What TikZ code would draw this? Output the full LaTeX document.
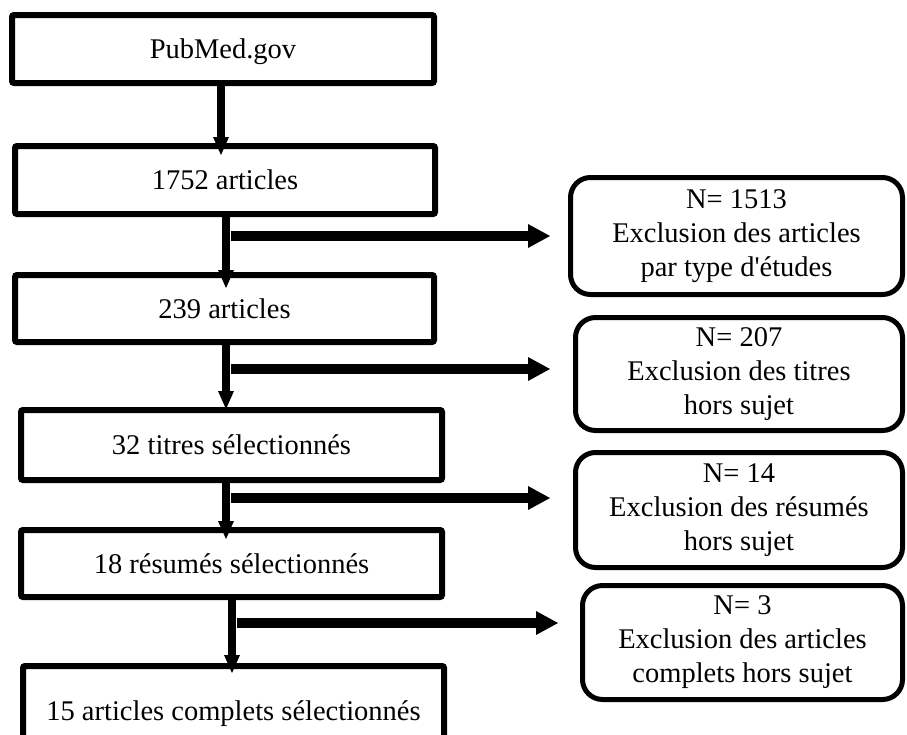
\documentclass[tikz,border=0pt]{standalone}
\usepackage{fontspec}
\setmainfont{Liberation Serif}
\usetikzlibrary{arrows.meta}
\begin{document}
\begin{tikzpicture}[x=1pt,y=-1pt,
  txt/.style={font=\fontsize{28.5}{34}\selectfont},
  lbox/.style={txt, draw, line width=6pt, rounded corners=2pt, inner sep=0pt,
    text height=19pt, text depth=0pt},
  rbox/.style={txt, draw, line width=5pt, rounded corners=20pt, inner sep=0pt, align=center},
  vconn/.style={line width=8pt, -{Triangle[length=18pt,width=16pt,line width=0pt]}},
  hconn/.style={line width=10pt, -{Triangle[length=22pt,width=24pt,line width=0pt]}}]
\useasboundingbox (0,0) rectangle (907,734);
\clip (0,0) rectangle (907,734);

% main column
\node[lbox, minimum width=422pt, minimum height=68pt] (b1) at (223,49) {PubMed.gov};
\node[lbox, minimum width=420pt, minimum height=68pt] (b2) at (225,180) {1752 articles};
\node[lbox, minimum width=419pt, minimum height=67pt] (b3) at (224.5,308.5) {239 articles};
\node[lbox, minimum width=421pt, minimum height=70pt] (b4) at (231.5,445) {32 titres sélectionnés};
\node[lbox, minimum width=421pt, minimum height=67pt] (b5) at (231.5,563.5) {18 résumés sélectionnés};
\node[lbox, minimum width=421pt, minimum height=89pt] (b6) at (233.5,710.5) {15 articles complets sélectionnés};

% exclusion boxes
\node[rbox, minimum width=332pt, minimum height=117pt] (r1) at (736.5,236)
  {N= 1513\\Exclusion des articles\\par type d\textquotesingle études};
\node[rbox, minimum width=327pt, minimum height=113pt] (r2) at (739,374)
  {N= 207\\Exclusion des titres\\hors sujet};
\node[rbox, minimum width=327pt, minimum height=115pt] (r3) at (739,510)
  {N= 14\\Exclusion des résumés\\hors sujet};
\node[rbox, minimum width=320pt, minimum height=114pt] (r4) at (742.5,642.5)
  {N= 3\\Exclusion des articles\\complets hors sujet};

% vertical connectors
\draw[vconn] (b1.south) ++(-2,0) -- ([xshift=-4pt,yshift=-12pt]b2.north);
\draw[vconn] (b2.south) ++(1,0) -- ([xshift=1.5pt,yshift=-16pt]b3.north);
\draw[vconn] (b3.south) ++(1.5,0) -- ([xshift=-5.5pt,yshift=-2pt]b4.north);
\draw[vconn] (b4.south) ++(-5.5,0) -- ([xshift=-5.5pt,yshift=-12pt]b5.north);
\draw[vconn] (b5.south) ++(0.5,0) -- ([xshift=-1.5pt,yshift=-10pt]b6.north);

% branch points and free ends
\coordinate (h1s) at (231,236);  \coordinate (h1e) at (550,236);
\coordinate (h2s) at (231,369);  \coordinate (h2e) at (550,369);
\coordinate (h3s) at (231,498);  \coordinate (h3e) at (550,498);
\coordinate (h4s) at (237,623);  \coordinate (h4e) at (558,623);

\draw[hconn] (h1s) -- (h1e);
\draw[hconn] (h2s) -- (h2e);
\draw[hconn] (h3s) -- (h3e);
\draw[hconn] (h4s) -- (h4e);
\end{tikzpicture}
\end{document}
